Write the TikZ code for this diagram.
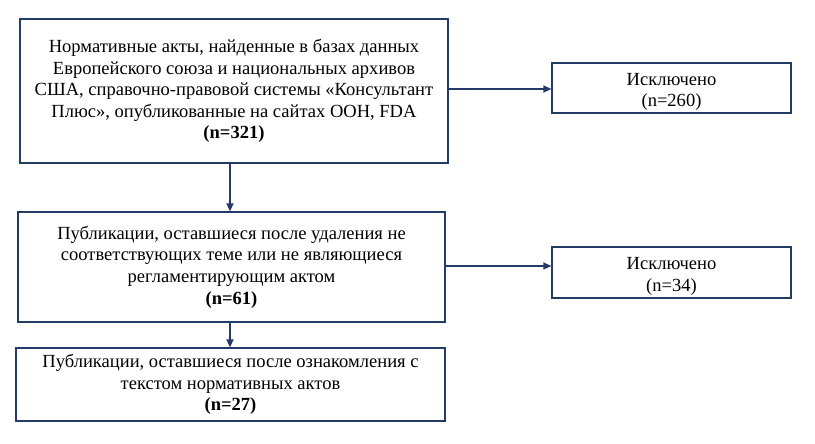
\documentclass[tikz,border=0pt]{standalone}
\usepackage{fontspec}
\setmainfont{Liberation Serif}
\usetikzlibrary{arrows.meta}
\definecolor{navy}{RGB}{36,58,104}
\tikzset{
  txt/.style={align=center, inner sep=0pt, font=\fontsize{18.6}{21.7}\selectfont},
  box/.style={draw=navy, line width=1.2bp, txt},
  exbox/.style={draw=navy, line width=1.2bp, minimum width=239bp, inner sep=0pt},
  conn/.style={draw=navy, line width=1.2bp, -{Triangle[length=8bp,width=7bp]}}
}
\begin{document}
\begin{tikzpicture}[x=1bp,y=-1bp]
\useasboundingbox (0,0) rectangle (815,444);
\node[box, minimum width=428bp, minimum height=144bp] (b1) at (234,91)
  {Нормативные акты, найденные в базах данных\\
   Европейского союза и национальных архивов\\
   США, справочно-правовой системы «Консультант\\
   Плюс», опубликованные на сайтах ООН, FDA\\
   \textbf{(n=321)}};
\node[box, minimum width=427bp, minimum height=110bp] (b2) at (231.5,267)
  {Публикации, оставшиеся после удаления не\\
   соответствующих теме или не являющиеся\\
   регламентирующим актом\\
   \textbf{(n=61)}};
\node[box, minimum width=429bp, minimum height=73bp] (b3) at (230.5,384.5)
  {Публикации, оставшиеся после ознакомления с\\
   текстом нормативных актов\\
   \textbf{(n=27)}};
\node[exbox, minimum height=50bp,
  label={[txt, yshift=-4bp]center:Исключено\\(n=260)}] (e1) at (671.5,88) {};
\node[exbox, minimum height=51bp,
  label={[txt, yshift=-4bp]center:Исключено\\(n=34)}] (e2) at (671.5,272.5) {};
\coordinate (ax) at (230,0);
\coordinate (ya) at (0,89);
\coordinate (yb) at (0,266);
\draw[conn] (b1.south -| ax) -- (b2.north -| ax);
\draw[conn] (b2.south -| ax) -- (b3.north -| ax);
\draw[conn] (b1.east |- ya) -- (e1.west |- ya);
\draw[conn] (b2.east |- yb) -- (e2.west |- yb);
\end{tikzpicture}
\end{document}
